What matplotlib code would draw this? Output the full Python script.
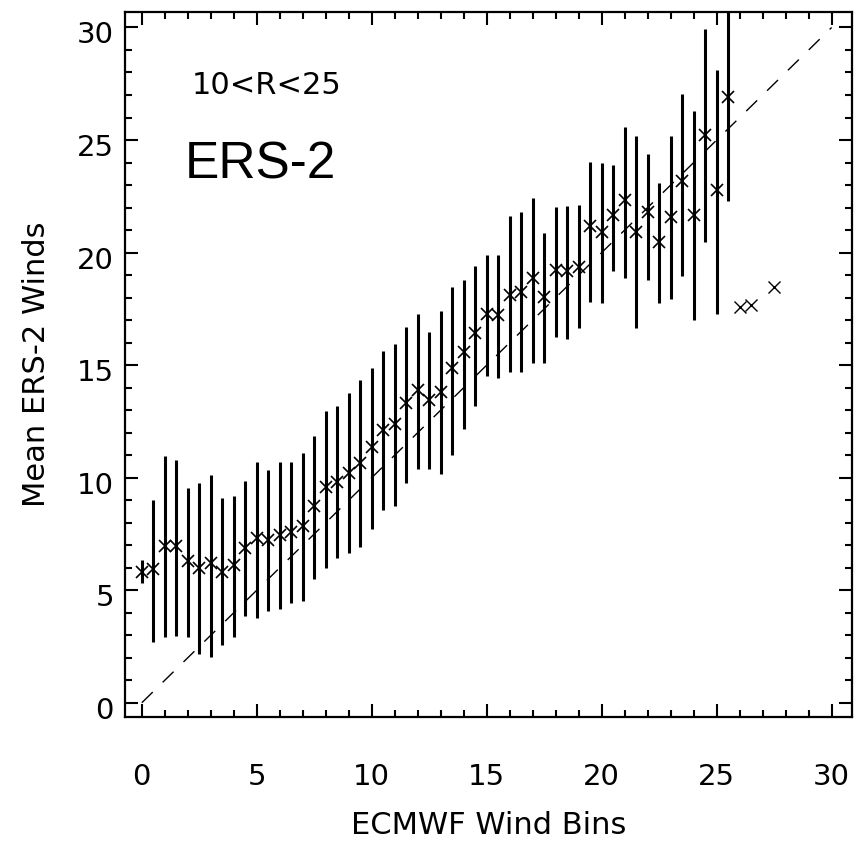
import matplotlib
matplotlib.use('Agg')
import matplotlib.pyplot as plt
import matplotlib.transforms as mtransforms
from matplotlib.ticker import MultipleLocator

plt.rcParams['font.family'] = 'DejaVu Sans'

# ECMWF wind bins (x) and mean ERS-2 winds with spread (y)
wind_bins = [0.0, 0.5, 1.0, 1.5, 2.0, 2.5, 3.0, 3.5, 4.0, 4.5,
             5.0, 5.5, 6.0, 6.5, 7.0, 7.5, 8.0, 8.5, 9.0, 9.5,
             10.0, 10.5, 11.0, 11.5, 12.0, 12.5, 13.0, 13.5, 14.0, 14.5,
             15.0, 15.5, 16.0, 16.5, 17.0, 17.5, 18.0, 18.5, 19.0, 19.5,
             20.0, 20.5, 21.0, 21.5, 22.0, 22.5, 23.0, 23.5, 24.0, 24.5,
             25.0, 25.5]
mean_wind = [5.82, 5.93, 6.98, 6.98, 6.30, 6.00, 6.19, 5.82, 6.12, 6.86,
             7.30, 7.23, 7.45, 7.60, 7.85, 8.76, 9.60, 9.82, 10.20, 10.67,
             11.38, 12.12, 12.39, 13.31, 13.90, 13.45, 13.82, 14.86, 15.60, 16.42,
             17.28, 17.23, 18.12, 18.27, 18.86, 18.04, 19.23, 19.20, 19.38, 21.16,
             20.92, 21.65, 22.34, 20.93, 21.82, 20.49, 21.57, 23.16, 21.68, 25.23,
             22.76, 26.93]
bar_low = [5.31, 2.71, 2.90, 2.98, 2.90, 2.16, 2.04, 2.56, 2.93, 3.85,
           3.78, 4.08, 4.15, 4.44, 4.52, 5.48, 5.97, 6.45, 6.64, 6.93,
           7.70, 8.56, 8.74, 9.78, 10.37, 10.37, 10.16, 11.01, 12.15, 13.19,
           14.52, 14.42, 14.71, 14.71, 15.08, 15.08, 16.27, 16.15, 16.64, 17.82,
           17.75, 19.16, 18.86, 16.64, 18.79, 17.75, 17.93, 18.96, 17.00, 20.49,
           17.27, 22.31]
bar_high = [6.34, 9.00, 10.96, 10.79, 9.56, 9.75, 10.12, 9.08, 9.19, 9.85,
            10.71, 10.34, 10.71, 10.71, 11.08, 11.85, 12.98, 13.19, 13.75, 14.34,
            14.89, 15.64, 15.93, 16.71, 17.26, 16.49, 17.42, 18.46, 18.76, 19.42,
            19.90, 19.90, 21.63, 21.80, 22.43, 20.86, 22.02, 22.09, 22.12, 24.03,
            23.97, 23.90, 25.60, 25.16, 24.39, 23.08, 25.16, 27.04, 26.27, 29.93,
            28.09, 31.50]

# bins with a single sample, no spread
single_bins = [26.0, 26.5, 27.5]
single_wind = [17.60, 17.68, 18.49]

fig = plt.figure(figsize=(8.67, 8.43), dpi=100)
ax = fig.add_axes([0.1442, 0.1498, 0.8381, 0.8363])

ax.plot([0, 30], [0, 30], color='black', lw=1.0, dashes=(11, 10))
ax.vlines(wind_bins, bar_low, bar_high, color='black', lw=2.2)
ax.plot(wind_bins, mean_wind, 'x', color='black', ms=9, mew=1.2)
ax.plot(single_bins, single_wind, 'x', color='black', ms=8, mew=1.0)

ax.set_xlim(-0.73, 30.87)
ax.set_ylim(-0.62, 30.7)
ax.xaxis.set_major_locator(MultipleLocator(5))
ax.xaxis.set_minor_locator(MultipleLocator(1))
ax.yaxis.set_major_locator(MultipleLocator(5))
ax.yaxis.set_minor_locator(MultipleLocator(1))
ax.tick_params(which='both', direction='in', top=True, right=True, width=1.5, colors='black')
ax.tick_params(which='major', length=9.5)
ax.tick_params(which='minor', length=5)
ax.tick_params(axis='x', which='major', pad=33, labelsize=21)
ax.tick_params(axis='y', which='major', pad=8, labelsize=21)
for s in ax.spines.values():
    s.set_linewidth(1.6)

# y tick labels sit a little below their ticks in the original
shift = mtransforms.ScaledTranslation(0, -5 / 100, fig.dpi_scale_trans)
for t in ax.yaxis.get_major_ticks():
    t.label1.set_transform(t.label1.get_transform() + shift)

ax.set_xlabel('ECMWF Wind Bins', fontsize=22)
ax.set_ylabel('Mean ERS-2 Winds', fontsize=22)
ax.xaxis.set_label_coords(0.5, -0.134)
ax.yaxis.set_label_coords(-0.102, 0.5)

ax.text(2.19, 27.4, '10<R<25', fontsize=22, va='center', ha='left')
ax.text(1.88, 23.9, 'ERS-2', fontsize=37, va='center', ha='left', family='Liberation Sans')

fig.savefig('out.png', dpi=100)
